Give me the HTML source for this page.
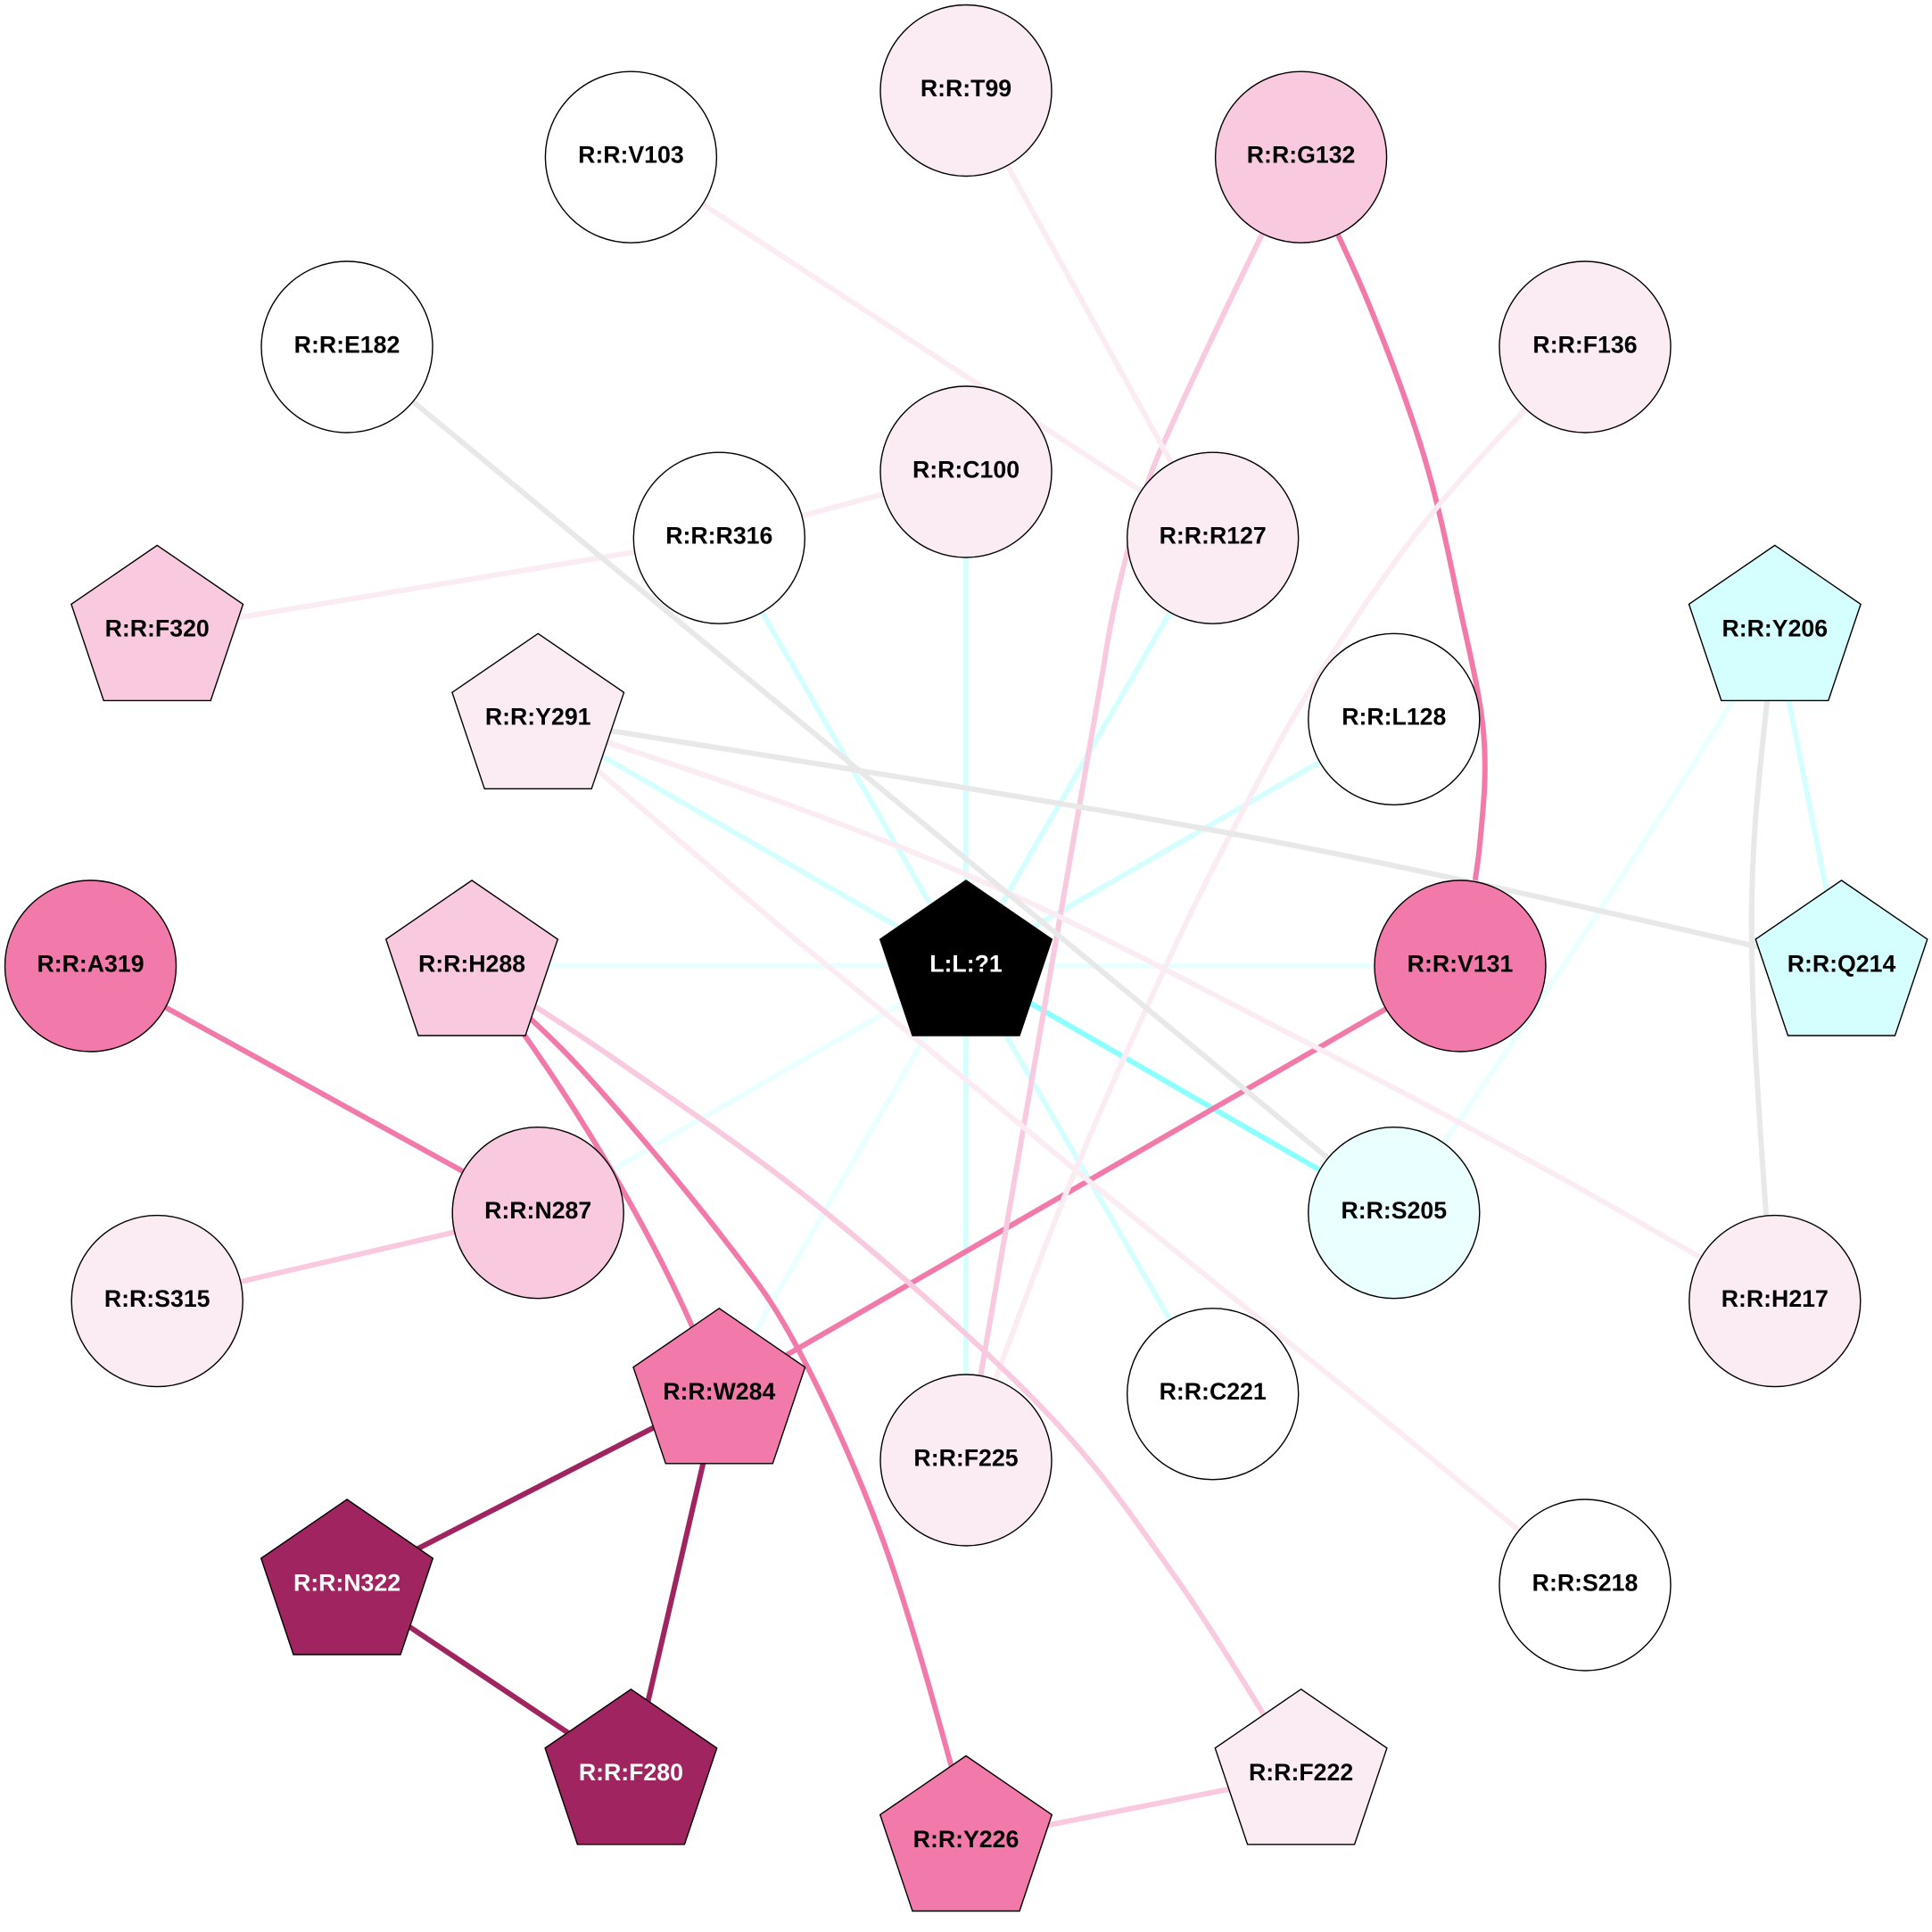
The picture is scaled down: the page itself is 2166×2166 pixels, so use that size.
<!DOCTYPE html>
<html><head><meta charset="utf-8"><style>
html,body{margin:0;padding:0;background:#fff}
svg{display:block}
text{font-family:"Liberation Sans",Arial,sans-serif;font-weight:bold;font-size:26.7px;text-anchor:middle}
.n circle,.n polygon{stroke:#000;stroke-width:1.4}
path{fill:none;stroke-width:6;stroke-linejoin:round}
</style></head><body>
<svg xmlns="http://www.w3.org/2000/svg" width="2166" height="2166" viewBox="0 0 2166 2166">
<rect width="2166" height="2166" fill="#fff"/>
<g>
<path stroke="#d5ffff" d="M1083,1083L1083,529"/>
<path stroke="#d5ffff" d="M1083,1083L806.3,603.2"/>
<path stroke="#d5ffff" d="M1083,1083L1359.7,603.2"/>
<path stroke="#d5ffff" d="M1083,1083L1562.8,806.3"/>
<path stroke="#d5ffff" d="M1083,1083L603.2,806.3"/>
<path stroke="#d5ffff" d="M1083,1083L1083,1637"/>
<path stroke="#d5ffff" d="M1083,1083L1359.7,1562.8"/>
<path stroke="#eaffff" d="M1083,1083L529,1083"/>
<path stroke="#eaffff" d="M1083,1083L1637,1083"/>
<path stroke="#eaffff" d="M1083,1083L603.2,1359.7"/>
<path stroke="#eaffff" d="M1083,1083L806.3,1562.8"/>
<path stroke="#8cffff" d="M1083,1083L1562.8,1359.7"/>
<path stroke="#eaffff" d="M1989.8,707.4C1900,860 1700,1170 1562.8,1359.7"/>
<path stroke="#d5ffff" d="M1989.8,707.4L2064.5,1083"/>
<path stroke="#a0245f" d="M806.3,1562.8L389,1777"/>
<path stroke="#a0245f" d="M806.3,1562.8L707.4,1989.8"/>
<path stroke="#a0245f" d="M389,1777L707.4,1989.8"/>
<path stroke="#f27aab" d="M1458.6,176.2C1471,203 1510,281 1533,337C1556,393 1580,456 1597,513C1614,570 1625,626 1636,678C1647,730 1660,780 1663.5,825C1667,870 1663,904 1659,947C1655,990 1641,1060 1637,1083"/>
<path stroke="#f27aab" d="M101.5,1083L603.2,1359.7"/>
<path stroke="#f27aab" d="M1637,1083L806.3,1562.8"/>
<path stroke="#f27aab" d="M529,1083C610,1180 745,1390 806.3,1562.8"/>
<path stroke="#f27aab" d="M529,1083C549,1102 604,1147 650,1197C696,1247 766,1330 807,1383C848,1436 864.5,1455.7 895,1513C925.5,1570 961.5,1649.5 990,1727C1018.5,1804.5 1050.5,1921.8 1066,1978C1081.5,2034 1080,2050 1083,2064.5"/>
<path stroke="#fbebf3" d="M1777,389C1749,419 1659,510 1610,570C1561,630 1518,695 1483,750C1448,805 1427,844.5 1398,900C1369,955.5 1341,1009 1307,1083C1273,1157 1230,1251 1193,1343C1156,1435 1101,1588 1083,1637"/>
<path stroke="#f9c9df" d="M1458.6,176.2C1420,250 1343,410 1300,507C1280,552 1250,660 1238,743C1214,880 1110,1480 1083,1637"/>
<path stroke="#f9c9df" d="M603.2,1359.7L176.2,1458.6"/>
<path stroke="#f9c9df" d="M529,1083C556,1101 627,1144 693,1190C759,1236 844,1292.5 923,1357C1002,1421.5 1101,1509 1167,1577C1233,1645 1268,1698 1317,1767C1366,1836 1435,1953 1458.6,1989.8"/>
<path stroke="#f9c9df" d="M1083,2064.5L1458.6,1989.8"/>
<path stroke="#fbebf3" d="M707.4,176.2L1359.7,603.2"/>
<path stroke="#fbebf3" d="M1083,101.5L1359.7,603.2"/>
<path stroke="#fbebf3" d="M806.3,603.2L1083,529"/>
<path stroke="#fbebf3" d="M806.3,603.2L176.2,707.4"/>
<path stroke="#fbebf3" d="M603.2,806.3C652,823 809,874 900,908C991,942 1054,966 1150,1010C1245.500,1054 1370,1120 1473,1173C1576,1226 1681,1282 1767,1330C1853,1378 1953,1437 1989.8,1458.6"/>
<path stroke="#fbebf3" d="M603.2,806.3C652.500,848 798,975 900,1060C1002,1145 1109,1233 1217,1321C1325,1409 1457,1514 1550,1590C1643,1666 1739,1746 1777,1777"/>
<path stroke="#e8e8e8" d="M389,389L1562.8,1359.7"/>
<path stroke="#e8e8e8" d="M603.2,806.3C677.500,818 920,856.500 1050,878C1180,899.500 1275,915 1383,935C1491,955 1586.500,975 1700,1000C1814,1025 2004,1069 2064.5,1083"/>
<path stroke="#e8e8e8" d="M1989.8,707.4C1986,745 1971,868 1967,935C1963,1002 1963,1039 1965,1110C1967,1181 1976,1304 1980,1362C1984,1420 1988,1443 1989.8,1458.6"/>
</g>
<g class="n">
<circle cx="1083" cy="101.5" r="96" fill="#fbebf3"/>
<circle cx="707.4" cy="176.2" r="96" fill="#fff"/>
<circle cx="1458.6" cy="176.2" r="96" fill="#f9c9df"/>
<circle cx="389" cy="389" r="96" fill="#fff"/>
<circle cx="1777" cy="389" r="96" fill="#fbebf3"/>
<circle cx="1083" cy="529" r="96" fill="#fbebf3"/>
<circle cx="806.3" cy="603.2" r="96" fill="#fff"/>
<circle cx="1359.7" cy="603.2" r="96" fill="#fbebf3"/>
<circle cx="1562.8" cy="806.3" r="96" fill="#fff"/>
<circle cx="101.5" cy="1083" r="96" fill="#f27aab"/>
<circle cx="1637" cy="1083" r="96" fill="#f27aab"/>
<circle cx="603.2" cy="1359.7" r="96" fill="#f9c9df"/>
<circle cx="1562.8" cy="1359.7" r="96" fill="#eaffff"/>
<circle cx="176.2" cy="1458.6" r="96" fill="#fbebf3"/>
<circle cx="1989.8" cy="1458.6" r="96" fill="#fbebf3"/>
<circle cx="1359.7" cy="1562.8" r="96" fill="#fff"/>
<circle cx="1083" cy="1637" r="96" fill="#fbebf3"/>
<circle cx="1777" cy="1777" r="96" fill="#fff"/>
<polygon transform="translate(176.2,707.4)" points="0,-96 96.3,-30 60,78 -60,78 -96.3,-30" fill="#f9c9df"/>
<polygon transform="translate(1989.8,707.4)" points="0,-96 96.3,-30 60,78 -60,78 -96.3,-30" fill="#d5ffff"/>
<polygon transform="translate(603.2,806.3)" points="0,-96 96.3,-30 60,78 -60,78 -96.3,-30" fill="#fbebf3"/>
<polygon transform="translate(529,1083)" points="0,-96 96.3,-30 60,78 -60,78 -96.3,-30" fill="#f9c9df"/>
<polygon transform="translate(1083,1083)" points="0,-96 96.3,-30 60,78 -60,78 -96.3,-30" fill="#000"/>
<polygon transform="translate(2064.5,1083)" points="0,-96 96.3,-30 60,78 -60,78 -96.3,-30" fill="#d5ffff"/>
<polygon transform="translate(806.3,1562.8)" points="0,-96 96.3,-30 60,78 -60,78 -96.3,-30" fill="#f27aab"/>
<polygon transform="translate(389,1777)" points="0,-96 96.3,-30 60,78 -60,78 -96.3,-30" fill="#a0245f"/>
<polygon transform="translate(707.4,1989.8)" points="0,-96 96.3,-30 60,78 -60,78 -96.3,-30" fill="#a0245f"/>
<polygon transform="translate(1458.6,1989.8)" points="0,-96 96.3,-30 60,78 -60,78 -96.3,-30" fill="#fbebf3"/>
<polygon transform="translate(1083,2064.5)" points="0,-96 96.3,-30 60,78 -60,78 -96.3,-30" fill="#f27aab"/>
</g>
<g fill="#000">
<text x="1083" y="107.8">R:R:T99</text>
<text x="707.4" y="182.5">R:R:V103</text>
<text x="1458.6" y="182.5">R:R:G132</text>
<text x="389" y="395.3">R:R:E182</text>
<text x="1777" y="395.3">R:R:F136</text>
<text x="1083" y="535.3">R:R:C100</text>
<text x="806.3" y="609.5">R:R:R316</text>
<text x="1359.7" y="609.5">R:R:R127</text>
<text x="1562.8" y="812.6">R:R:L128</text>
<text x="101.5" y="1089.3">R:R:A319</text>
<text x="1637" y="1089.3">R:R:V131</text>
<text x="603.2" y="1366">R:R:N287</text>
<text x="1562.8" y="1366">R:R:S205</text>
<text x="176.2" y="1464.9">R:R:S315</text>
<text x="1989.8" y="1464.9">R:R:H217</text>
<text x="1359.7" y="1569.1">R:R:C221</text>
<text x="1083" y="1643.3">R:R:F225</text>
<text x="1777" y="1783.3">R:R:S218</text>
<text x="176.2" y="713.7">R:R:F320</text>
<text x="1989.8" y="713.7">R:R:Y206</text>
<text x="603.2" y="812.6">R:R:Y291</text>
<text x="529" y="1089.3">R:R:H288</text>
<text x="2064.5" y="1089.3">R:R:Q214</text>
<text x="806.3" y="1569.1">R:R:W284</text>
<text x="1458.6" y="1996.1">R:R:F222</text>
<text x="1083" y="2070.8">R:R:Y226</text>
</g>
<g fill="#fff">
<text x="1083" y="1089.3">L:L:?1</text>
<text x="389" y="1783.3">R:R:N322</text>
<text x="707.4" y="1996.1">R:R:F280</text>
</g>
</svg>
</body></html>
